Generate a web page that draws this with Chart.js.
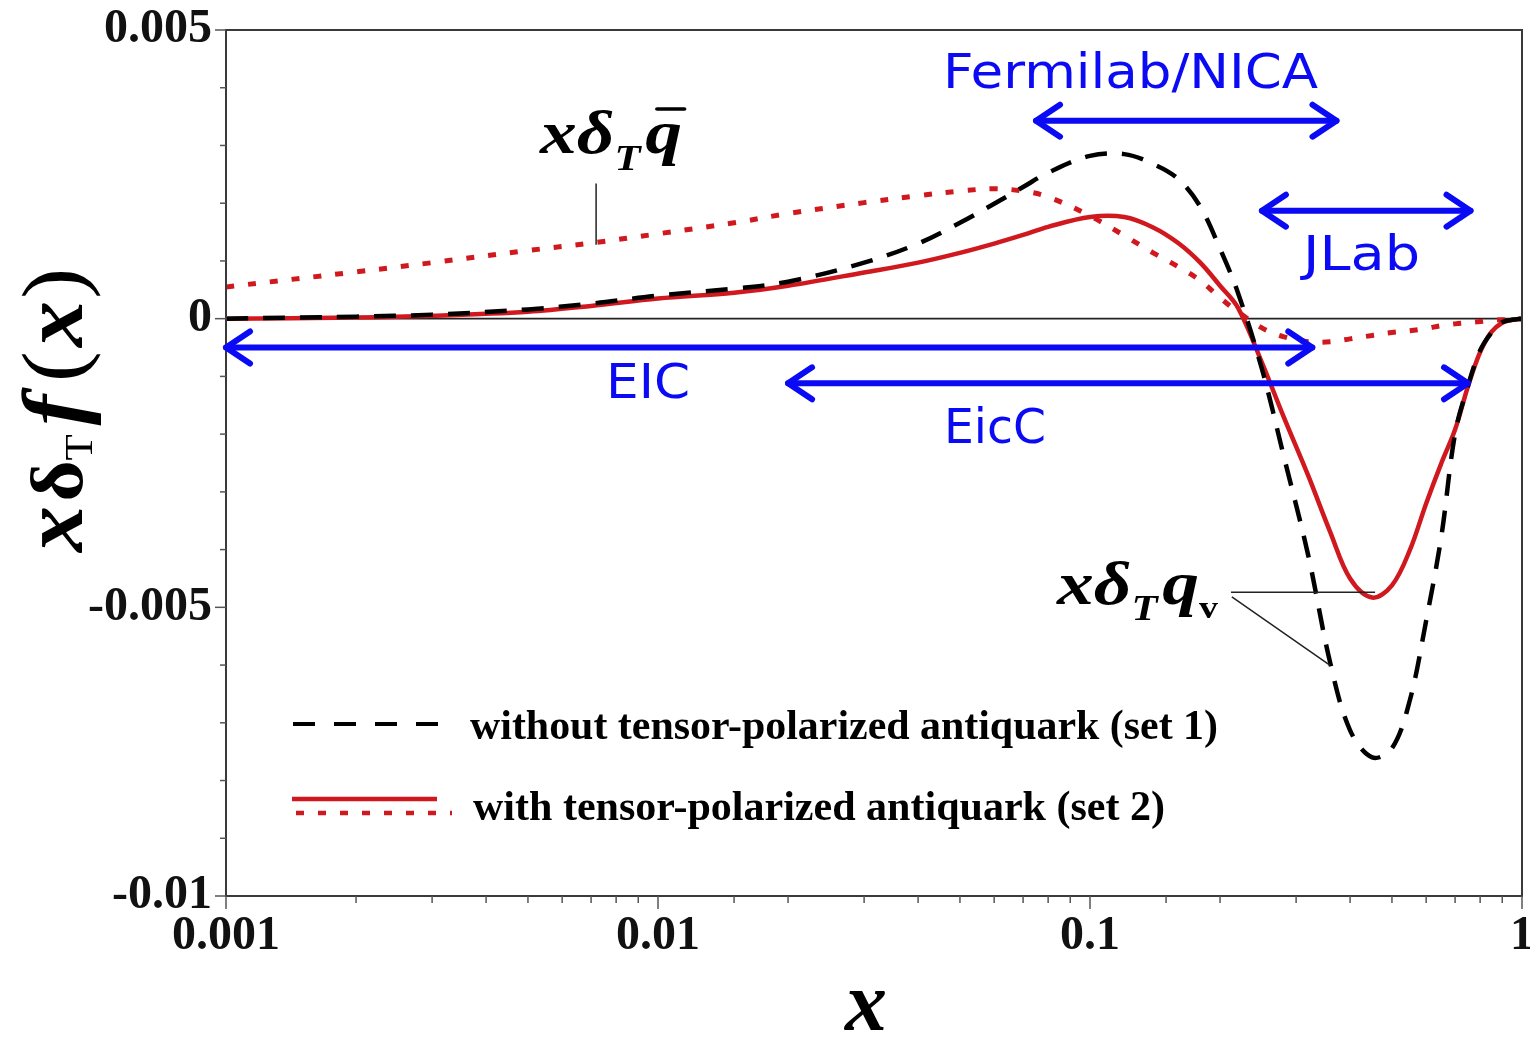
<!DOCTYPE html>
<html><head><meta charset="utf-8">
<script src="https://cdn.jsdelivr.net/npm/chart.js@4.4.1/dist/chart.umd.min.js"></script>
<style>html,body{margin:0;padding:0;background:#fff;}canvas{display:block}</style>
</head><body>
<canvas id="c" width="1530" height="1038"></canvas>
<script>
// ---------------- data ----------------
const xValues = [0.001,0.002,0.003,0.005,0.007,0.01,0.015,0.02,0.03,0.04,0.05,0.06,0.07,0.08,0.1,0.12,0.14,0.16,0.18,0.2,0.22,0.25,0.28,0.32,0.36,0.4,0.45,0.5,0.55,0.6,0.65,0.7,0.75,0.8,0.85,0.9,0.95,1.0];
// set 1: x δT q_v without tensor-polarized antiquark (black dashed)
const set1Valence = [0,0.000035,0.00007,0.00016,0.00026,0.0004,0.00052,0.00064,0.00097,0.0013,0.00166,0.00199,0.00228,0.00253,0.00282,0.00285,0.00268,0.00242,0.00194,0.00121,0.00045,-0.00087,-0.00234,-0.0041,-0.00597,-0.00713,-0.0076,-0.00744,-0.00661,-0.00523,-0.00379,-0.00199,-0.00116,-0.00055,-0.00024,-0.00006,-0.00002,0];
// set 2: x δT q_v with tensor-polarized antiquark (red solid)
const set2Valence = [0,0.00002,0.00005,0.00012,0.00022,0.00035,0.00045,0.00057,0.0008,0.00097,0.00114,0.0013,0.00145,0.00159,0.00176,0.00176,0.00158,0.00131,0.00097,0.00057,0.00019,-0.00076,-0.00168,-0.00272,-0.0037,-0.0045,-0.00483,-0.00462,-0.00401,-0.0032,-0.00251,-0.00192,-0.00117,-0.00058,-0.00023,-0.00007,-0.00002,0];
// set 2: x δT q̄ (red dotted)
const set2Antiquark = [0.00055,0.00081,0.00097,0.00118,0.00131,0.00147,0.00166,0.00182,0.00201,0.00213,0.00221,0.00225,0.00221,0.00211,0.00178,0.00144,0.00114,0.0009,0.00066,0.00036,0.00012,-0.00016,-0.00031,-0.0004,-0.0004,-0.00035,-0.00029,-0.00024,-0.00021,-0.00017,-0.00012,-0.00009,-0.00007,-0.00005,-0.00003,-0.00002,-0.00001,0];

const xTickValues = [0.001,0.01,0.1,1];
const xTickLabels = ['0.001','0.01','0.1','1'];
const yTickValues = [0.005,0,-0.005,-0.01];
const yTickLabels = ['0.005','0','-0.005','-0.01'];

const legendLabels = ['without tensor-polarized antiquark (set 1)','with tensor-polarized antiquark (set 2)'];

// experiment ranges (double arrows), in data units
const rangeNames = ['Fermilab/NICA','JLab','EIC','EicC'];
const rangeFrom  = [0.075,0.25,0.001,0.02];
const rangeTo    = [0.372,0.76,0.327,0.75];
const rangeLevel = [0.00343,0.00187,-0.0005,-0.00112];

// ---------------- helpers ----------------
const pts = (ys) => xValues.map((x,i)=>({x:x,y:ys[i]}));
const SERIF = '"Liberation Serif","Times New Roman","DejaVu Serif",serif';
const BLUEFONT = '"Comic Sans MS","DejaVu Sans",sans-serif';
const RED = '#d0191f';
const BLUE = '#0a0af5';

function richWidth(ctx, segs){
  let w=0; for(const s of segs){ctx.font=s.font; w+=ctx.measureText(s.t).width+(s.kern||0);} return w;
}
function drawRich(ctx, x, y, segs, targetW){
  const w = richWidth(ctx, segs);
  const sx = targetW ? targetW/w : 1;
  ctx.save(); ctx.translate(x,y); ctx.scale(sx,1);
  let cx=0;
  for(const s of segs){
    ctx.font=s.font;
    const mw=ctx.measureText(s.t).width;
    ctx.fillText(s.t, cx, s.dy||0);
    if(s.over){
      ctx.save(); ctx.lineWidth=3.5; ctx.strokeStyle=ctx.fillStyle;
      ctx.beginPath(); ctx.moveTo(cx+s.over[0], -s.over[2]); ctx.lineTo(cx+mw+s.over[1], -s.over[2]); ctx.stroke(); ctx.restore();
    }
    cx+=mw+(s.kern||0);
  }
  ctx.restore();
}
function fitText(ctx, text, font, x, y, targetW){
  ctx.font=font; const w=ctx.measureText(text).width;
  ctx.save(); ctx.translate(x,y); ctx.scale(targetW/w,1); ctx.fillText(text,0,0); ctx.restore();
}
function arrowHead(ctx, x, y, dir){
  ctx.beginPath();
  ctx.moveTo(x - dir*24, y - 16); ctx.lineTo(x, y); ctx.lineTo(x - dir*24, y + 16);
  ctx.stroke();
}

const decor = {
  id:'decor',
  beforeDatasetsDraw(chart){
    const {ctx, chartArea:a, scales:{y}} = chart;
    ctx.save();
    ctx.strokeStyle='#222'; ctx.lineWidth=1.6;
    const y0=y.getPixelForValue(0);
    ctx.beginPath(); ctx.moveTo(a.left,y0); ctx.lineTo(a.right,y0); ctx.stroke();
    ctx.restore();
  },
  afterDatasetsDraw(chart){
    const {ctx, chartArea:a, scales:{x,y}} = chart;
    ctx.save();
    // frame
    ctx.strokeStyle='#3a3a3a'; ctx.lineWidth=2;
    ctx.strokeRect(a.left, a.top, a.right-a.left, a.bottom-a.top);
    // tick marks
    ctx.lineWidth=1.5; ctx.strokeStyle='#555';
    for(const t of y.ticks){
      const p=y.getPixelForValue(t.value);
      const major = yTickValues.some(v=>Math.abs(v-t.value)<1e-9);
      ctx.beginPath(); ctx.moveTo(a.left,p); ctx.lineTo(a.left-(major?11:6),p); ctx.stroke();
    }
    for(const t of x.ticks){
      const p=x.getPixelForValue(t.value);
      const lg=Math.log10(t.value);
      const major = Math.abs(lg-Math.round(lg))<1e-6;
      ctx.beginPath(); ctx.moveTo(p,a.bottom); ctx.lineTo(p,a.bottom+(major?13:7)); ctx.stroke();
    }
    // experiment range arrows
    ctx.strokeStyle=BLUE; ctx.lineWidth=6; ctx.lineCap='round'; ctx.lineJoin='round';
    for(let i=0;i<rangeNames.length;i++){
      const x1=x.getPixelForValue(rangeFrom[i]), x2=x.getPixelForValue(rangeTo[i]), yy=y.getPixelForValue(rangeLevel[i]);
      ctx.beginPath(); ctx.moveTo(x1,yy); ctx.lineTo(x2,yy); ctx.stroke();
      arrowHead(ctx,x1,yy,-1); arrowHead(ctx,x2,yy,1);
    }
    ctx.fillStyle=BLUE; ctx.textBaseline='alphabetic'; ctx.textAlign='left';
    const bf = '48px '+BLUEFONT;
    fitText(ctx,'Fermilab/NICA',bf,943,88,375);
    fitText(ctx,'JLab',bf,1303,270,117);
    fitText(ctx,'EIC',bf,606,398,84);
    fitText(ctx,'EicC',bf,944,443,102);

    // curve labels
    ctx.fillStyle='#000';
    const BI = s=>'italic bold '+s+'px '+SERIF;
    drawRich(ctx,540,153,[
      {t:'x',font:BI(62)},{t:'δ',font:BI(62)},{t:'T',font:BI(36),dy:17,kern:4},{t:'q',font:BI(62),over:[10,2,44]}
    ],142);
    drawRich(ctx,1057,604,[
      {t:'x',font:BI(62)},{t:'δ',font:BI(62)},{t:'T',font:BI(36),dy:16,kern:4},{t:'q',font:BI(62)},{t:'v',font:'bold 32px '+SERIF,dy:14}
    ],161);
    // pointer lines
    ctx.strokeStyle='#222'; ctx.lineWidth=1.5; ctx.lineCap='butt';
    ctx.beginPath();
    ctx.moveTo(x.getPixelForValue(0.00719), y.getPixelForValue(0.00234));
    ctx.lineTo(x.getPixelForValue(0.00719), y.getPixelForValue(0.00128));
    ctx.moveTo(x.getPixelForValue(0.212), y.getPixelForValue(-0.00474));
    ctx.lineTo(x.getPixelForValue(0.457), y.getPixelForValue(-0.00474));
    ctx.moveTo(x.getPixelForValue(0.213), y.getPixelForValue(-0.00482));
    ctx.lineTo(x.getPixelForValue(0.359), y.getPixelForValue(-0.006));
    ctx.stroke();

    // legend
    ctx.lineCap='butt';
    ctx.strokeStyle='#000'; ctx.lineWidth=4; ctx.setLineDash([22,19]);
    ctx.beginPath(); ctx.moveTo(293,724); ctx.lineTo(441,724); ctx.stroke();
    ctx.strokeStyle=RED; ctx.lineWidth=4.5; ctx.setLineDash([]);
    ctx.beginPath(); ctx.moveTo(292,799); ctx.lineTo(437,799); ctx.stroke();
    ctx.setLineDash([8,14]); ctx.lineWidth=4.5;
    ctx.beginPath(); ctx.moveTo(296,813); ctx.lineTo(452,813); ctx.stroke();
    ctx.setLineDash([]);
    ctx.fillStyle='#000';
    fitText(ctx,legendLabels[0],'bold 42px '+SERIF,470,739,748);
    fitText(ctx,legendLabels[1],'bold 42px '+SERIF,473,820,692);

    // axis titles
    ctx.save();
    ctx.translate(82,552); ctx.rotate(-Math.PI/2);
    drawRich(ctx,0,0,[
      {t:'x',font:BI(86),kern:4},{t:'δ',font:'bold 74px '+SERIF},{t:'T',font:'40px '+SERIF,dy:10,kern:8},
      {t:'f',font:BI(86),kern:12},{t:'(',font:'86px '+SERIF,kern:4},{t:'x',font:BI(86),kern:2},{t:')',font:'86px '+SERIF}
    ],284);
    ctx.restore();
    ctx.font=BI(84); ctx.textAlign='center';
    ctx.fillText('x',866,1030);
    ctx.restore();
  }
};

const tickFont = {family:SERIF, size:48, weight:'bold'};
const lineCommon = {pointRadius:0, tension:0.35, fill:false};
new Chart(document.getElementById('c'),{
  type:'line',
  data:{datasets:[
    Object.assign({label:legendLabels[0], data:pts(set1Valence), borderColor:'#000', borderWidth:4.5, borderDash:[22,15]}, lineCommon),
    Object.assign({label:legendLabels[1], data:pts(set2Valence), borderColor:RED, borderWidth:4.5}, lineCommon),
    Object.assign({label:legendLabels[1]+' antiquark', data:pts(set2Antiquark), borderColor:RED, borderWidth:5, borderDash:[8,14]}, lineCommon)
  ]},
  options:{
    responsive:false, animation:false, devicePixelRatio:1,
    layout:{padding:{top:30,right:8,left:0,bottom:0}},
    plugins:{legend:{display:false}, tooltip:{enabled:false}},
    scales:{
      x:{type:'logarithmic', min:0.001, max:1, position:'bottom',
        grid:{display:false, drawTicks:false, tickLength:0}, border:{display:false},
        ticks:{autoSkip:false, maxRotation:0, minRotation:0, color:'#111', font:tickFont, padding:12,
          callback:(v)=>{const i=xTickValues.findIndex(t=>Math.abs(t-v)/t<1e-6); return i>=0?xTickLabels[i]:'';}},
        afterFit(s){s.height=142; s.paddingLeft=0; s.paddingRight=0;}
      },
      y:{type:'linear', min:-0.01, max:0.005,
        grid:{display:false, drawTicks:false, tickLength:0}, border:{display:false},
        ticks:{stepSize:0.001, autoSkip:false, color:'#111', font:tickFont, padding:14,
          callback:(v)=>{const i=yTickValues.findIndex(t=>Math.abs(t-v)<1e-9); return i>=0?yTickLabels[i]:'';}},
        afterFit(s){s.width=226; s.paddingTop=0; s.paddingBottom=0;}
      }
    }
  },
  plugins:[decor]
});
</script>
</body></html>
